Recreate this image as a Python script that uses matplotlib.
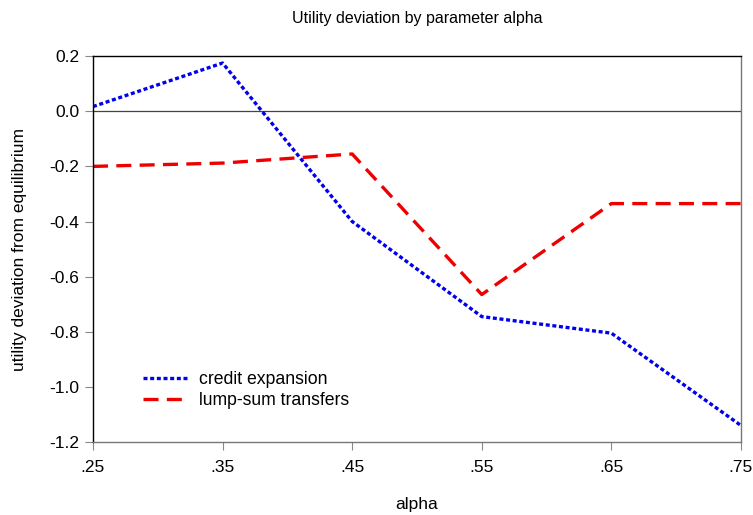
import numpy as np
import matplotlib.pyplot as plt

# alpha values and utility deviations
alpha = [0.25, 0.35, 0.45, 0.55, 0.65, 0.75]
credit_expansion = [0.017, 0.175, -0.40, -0.745, -0.805, -1.140]
lump_sum = [-0.200, -0.188, -0.155, -0.665, -0.335, -0.335]

x_ticks = [0.25, 0.35, 0.45, 0.55, 0.65, 0.75]
x_labels = [".25", ".35", ".45", ".55", ".65", ".75"]
y_ticks = [-1.2, -1.0, -0.8, -0.6, -0.4, -0.2, 0.0, 0.2]

plt.rcParams['font.family'] = ['Liberation Sans', 'DejaVu Sans']

fig = plt.figure(figsize=(7.53, 5.15), dpi=100)
ax = fig.add_axes([0.1235, 0.1417, 0.8605, 0.7493])

ax.axhline(0, color='#444444', lw=0.9)
ax.plot(alpha, credit_expansion, color='#0000ee', lw=2.4, linestyle=(0, (1.2, 0.8)),
        label='credit expansion')
ax.plot(alpha, lump_sum, color='#ee0000', lw=2.4, linestyle=(0, (4.5, 2.5)),
        label='lump-sum transfers')

ax.set_xlim(0.25, 0.75)
ax.set_ylim(-1.2, 0.2)
ax.set_xticks(x_ticks)
ax.set_xticklabels(x_labels)
ax.set_yticks(y_ticks)
ax.set_yticklabels(["%.1f" % v for v in y_ticks])
ax.tick_params(axis='both', direction='out', length=6, color='#888888',
               labelsize=12.5, pad=4)
ax.tick_params(axis='x', pad=7)

for s in ['left', 'top']:
    ax.spines[s].set_color('black')
for s in ['right', 'bottom']:
    ax.spines[s].set_color('#777777')
for s in ax.spines.values():
    s.set_linewidth(1.0)

ax.set_title("Utility deviation by parameter alpha", fontsize=11.5, pad=24)
ax.set_xlabel("alpha", fontsize=12.5, labelpad=16)
ax.set_ylabel("utility deviation from equilibrium", fontsize=12.5, labelpad=16)

ax.legend(loc='lower left', bbox_to_anchor=(0.052, 0.045), frameon=False,
          fontsize=12.7, handlelength=2.6, labelspacing=0.2, handletextpad=0.6)

fig.savefig("out.png", dpi=100)
